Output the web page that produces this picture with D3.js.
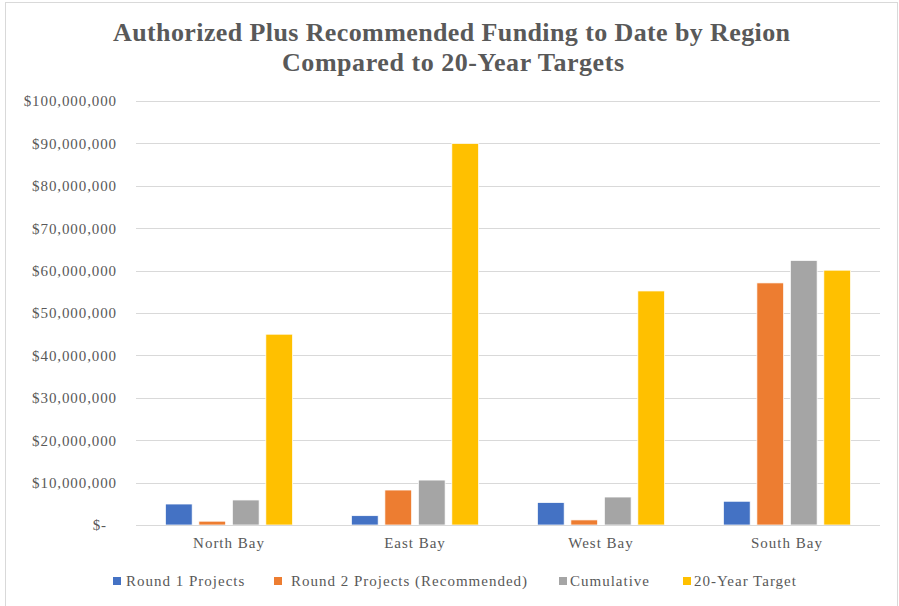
<!DOCTYPE html>
<html>
<head>
<meta charset="utf-8">
<script src="https://cdn.jsdelivr.net/npm/d3@7"></script>
<style>
  body { margin: 0; background: #fff; }
</style>
</head>
<body>
<script>
const width = 899;
const height = 606;
const FONT = "'Liberation Serif'";

// data (dollars)
const regions = ["North Bay", "East Bay", "West Bay", "South Bay"];
const seriesNames = ["Round 1 Projects", "Round 2 Projects (Recommended)", "Cumulative", "20-Year Target"];
const round1 = [4950000, 2200000, 5300000, 5600000];
const round2 = [900000, 8250000, 1200000, 57100000];
const cumulative = [5900000, 10600000, 6600000, 62400000];
const target = [45000000, 90000000, 55200000, 60100000];
const yTicks = [0, 10000000, 20000000, 30000000, 40000000, 50000000, 60000000, 70000000, 80000000, 90000000, 100000000];

const colors = ["#4472C4", "#ED7D31", "#A5A5A5", "#FFC000"];
const seriesValues = [round1, round2, cumulative, target];

const svg = d3.select("body").append("svg")
    .attr("width", width)
    .attr("height", height);

// chart border
svg.append("rect")
    .attr("x", 5.5).attr("y", 2.5)
    .attr("width", 892).attr("height", 610)
    .attr("fill", "none")
    .attr("stroke", "#d9d9d9");

const plotLeft = 136, plotRight = 880, plotTop = 101, plotBottom = 525;

const y = d3.scaleLinear().domain([0, 100000000]).range([plotBottom, plotTop]);
const x0 = d3.scaleBand().domain(regions).range([plotLeft, plotRight])
    .paddingInner(0.316).paddingOuter(0.158);
const x1 = d3.scaleBand().domain(d3.range(seriesNames.length)).range([0, x0.bandwidth()])
    .padding(0.2).paddingOuter(0);

// title
svg.append("text")
    .attr("x", 113).attr("y", 41)
    .attr("textLength", 677).attr("lengthAdjust", "spacing")
    .attr("fill", "#595959")
    .style("font-family", FONT)
    .style("font-size", "26px")
    .style("font-weight", "bold")
    .text("Authorized Plus Recommended Funding to Date by Region");
svg.append("text")
    .attr("x", 282).attr("y", 71)
    .attr("textLength", 342).attr("lengthAdjust", "spacing")
    .attr("fill", "#595959")
    .style("font-family", FONT)
    .style("font-size", "26px")
    .style("font-weight", "bold")
    .text("Compared to 20-Year Targets");

// gridlines
svg.append("g")
    .selectAll("line")
    .data(yTicks)
    .join("line")
    .attr("x1", plotLeft).attr("x2", plotRight)
    .attr("y1", d => Math.round(y(d)) + 0.5).attr("y2", d => Math.round(y(d)) + 0.5)
    .attr("stroke", "#d9d9d9")
    .attr("stroke-width", 1);

// y axis labels
const fmt = d3.format(",");
const yAxis = d3.axisLeft(y)
    .tickValues(yTicks)
    .tickSize(0)
    .tickPadding(0)
    .tickFormat(d => d === 0 ? "$-" : "$" + fmt(d));
const yG = svg.append("g")
    .attr("transform", `translate(117,0)`)
    .call(yAxis);
yG.select(".domain").remove();
yG.selectAll("text")
    .attr("fill", "#595959")
    .style("font-family", FONT)
    .style("font-size", "15px")
    .style("letter-spacing", "0.9px")
    .attr("dx", d => d === 0 ? -10 : 0);

// bars
const groups = svg.append("g")
    .selectAll("g")
    .data(regions)
    .join("g")
    .attr("transform", d => `translate(${x0(d)},0)`);

groups.selectAll("rect")
    .data((d, i) => seriesValues.map((vals, s) => ({ s, v: vals[i] })))
    .join("rect")
    .attr("x", d => x1(d.s))
    .attr("width", x1.bandwidth())
    .attr("y", d => y(d.v))
    .attr("height", d => y(0) - y(d.v))
    .attr("fill", d => colors[d.s])
    .attr("stroke", "#fff")
    .attr("stroke-width", 0.75);

// x axis line
svg.append("line")
    .attr("x1", plotLeft).attr("x2", plotRight)
    .attr("y1", plotBottom + 0.5).attr("y2", plotBottom + 0.5)
    .attr("stroke", "#d9d9d9");

// category labels
const xAxis = d3.axisBottom(x0).tickSize(0).tickPadding(0);
const xG = svg.append("g")
    .attr("transform", `translate(0,${plotBottom + 12})`)
    .call(xAxis);
xG.select(".domain").remove();
xG.selectAll("text")
    .attr("fill", "#595959")
    .style("font-family", FONT)
    .style("font-size", "15px")
    .style("letter-spacing", "1px");

// legend
const legendX = [113, 274, 559, 683];
const legendTextDx = [13, 17, 11, 11];
const legend = svg.append("g")
    .selectAll("g")
    .data(seriesNames)
    .join("g")
    .attr("transform", (d, i) => `translate(${legendX[i]},577)`);
legend.append("rect")
    .attr("width", 8).attr("height", 8)
    .attr("fill", (d, i) => colors[i]);
legend.append("text")
    .attr("x", (d, i) => legendTextDx[i])
    .attr("y", 9)
    .attr("fill", "#595959")
    .style("font-family", FONT)
    .style("font-size", "15px")
    .style("letter-spacing", "1px")
    .text(d => d);
</script>
</body>
</html>
